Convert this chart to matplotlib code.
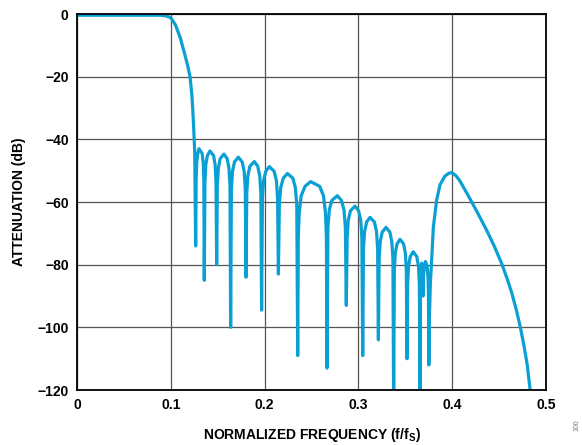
import matplotlib
matplotlib.use('Agg')
import matplotlib.pyplot as plt

plt.rcParams['font.family'] = ['Liberation Sans', 'DejaVu Sans']
plt.rcParams['font.weight'] = 'bold'
plt.rcParams['mathtext.fontset'] = 'custom'
plt.rcParams['mathtext.rm'] = 'Liberation Sans:bold'
plt.rcParams['mathtext.it'] = 'Liberation Sans:bold'
plt.rcParams['mathtext.bf'] = 'Liberation Sans:bold'

# response (normalized frequency, attenuation in dB)
freq = [
    0.000, 0.020, 0.040, 0.060, 0.080, 0.090, 0.095, 0.100, 0.105, 0.110,
    0.115, 0.118, 0.1205, 0.1225, 0.1235, 0.1245, 0.1255,
    0.1265, 0.1270, 0.1276, 0.1288, 0.1300, 0.1334, 0.1346, 0.1352,
    0.1357, 0.1364, 0.1373, 0.1390, 0.1418, 0.1456, 0.1473, 0.1482,
    0.1489, 0.1496, 0.1507, 0.1526, 0.1567, 0.1601, 0.1620, 0.1631,
    0.1638, 0.1646, 0.1658, 0.1679, 0.1720, 0.1761, 0.1782, 0.1794,
    0.1802, 0.1810, 0.1822, 0.1843, 0.1890, 0.1927, 0.1948, 0.1960,
    0.1968, 0.1977, 0.1989, 0.2013, 0.2050, 0.2102, 0.2126, 0.2138,
    0.2147, 0.2157, 0.2172, 0.2199, 0.2243, 0.2301, 0.2328, 0.2343,
    0.2353, 0.2359, 0.2369, 0.2390, 0.2431, 0.2491, 0.2587, 0.2628, 0.2649, 0.2659,
    0.2665, 0.2675, 0.2690, 0.2717, 0.2775, 0.2819, 0.2846, 0.2861,
    0.2871, 0.2880, 0.2892, 0.2915, 0.2964, 0.3002, 0.3025, 0.3037,
    0.3046, 0.3054, 0.3066, 0.3088, 0.3124, 0.3171, 0.3193, 0.3205,
    0.3213, 0.3221, 0.3233, 0.3254, 0.3294, 0.3335, 0.3356, 0.3368,
    0.3376, 0.3383, 0.3393, 0.3412, 0.3443, 0.3482, 0.3501, 0.3511,
    0.3518, 0.3525, 0.3535, 0.3553, 0.3585, 0.3622, 0.3640, 0.3650,
    0.3657, 0.3661, 0.3668, 0.3675, 0.3683, 0.3688,
    0.3690, 0.3694, 0.3702, 0.3715, 0.3733, 0.3742, 0.3747,
    0.3751, 0.3758, 0.3767, 0.3781, 0.3799, 0.3834, 0.3870, 0.3920,
    0.3960, 0.3994, 0.4040, 0.4083, 0.4130, 0.4190, 0.4280, 0.4367,
    0.4450, 0.4527, 0.4580, 0.4633, 0.4680, 0.4723, 0.4765, 0.4800,
    0.4822, 0.4835,
]
atten = [
    -0.4, -0.4, -0.4, -0.4, -0.4, -0.4, -0.6, -1.2, -3.5, -7.5,
    -13.0, -16.5, -20.0, -26.0, -31.0, -37.0, -44.0,
    -74.0, -53.0, -47.5, -44.5, -43.0, -44.5, -47.5, -53.0,
    -85.0, -53.7, -48.2, -45.2, -43.7, -45.2, -48.2, -53.7,
    -80.0, -54.7, -49.2, -46.2, -44.7, -46.2, -49.2, -54.7,
    -100.0, -55.7, -50.2, -47.2, -45.7, -47.2, -50.2, -55.7,
    -84.0, -57.1, -51.6, -48.6, -47.1, -48.6, -51.6, -57.1,
    -94.5, -58.7, -53.2, -50.2, -48.7, -50.2, -53.2, -58.7,
    -83.0, -60.9, -55.4, -52.4, -50.9, -52.4, -55.4, -60.9,
    -109.0, -71.5, -63.5, -58.0, -55.0, -53.5, -55.0, -58.0, -63.5, -71.5,
    -113.0, -68.0, -62.5, -59.5, -58.0, -59.5, -62.5, -68.0,
    -93.0, -71.3, -65.8, -62.8, -61.3, -62.8, -65.8, -71.3,
    -109.0, -74.9, -69.4, -66.4, -64.9, -66.4, -69.4, -74.9,
    -104.0, -78.1, -72.6, -69.6, -68.1, -69.6, -72.6, -78.1,
    -125.0, -81.9, -76.4, -73.4, -71.9, -73.4, -76.4, -81.9,
    -110.0, -85.9, -80.4, -77.4, -75.9, -77.4, -80.4, -85.9,
    -125.0, -86.0, -81.0, -79.5, -81.0, -85.0,
    -90.0, -84.0, -80.5, -79.0, -80.5, -84.0, -90.0,
    -112.0, -96.0, -86.0, -78.5, -68.0, -59.4, -54.5, -51.8,
    -50.9, -50.6, -51.6, -53.3, -55.8, -59.0, -64.0, -69.0,
    -74.2, -79.6, -84.0, -88.8, -94.0, -99.5, -105.8, -112.0,
    -117.5, -121.0,
]

x_ticks = [0, 0.1, 0.2, 0.3, 0.4, 0.5]
x_labels = ['0', '0.1', '0.2', '0.3', '0.4', '0.5']
y_ticks = [0, -20, -40, -60, -80, -100, -120]

fig = plt.figure(figsize=(5.82, 4.45), dpi=100)
ax = fig.add_axes([77 / 582, 1 - 390 / 445, (546 - 77) / 582, (390 - 14) / 445])

ax.plot(freq, atten, color='#0aa0d4', lw=2.3, solid_joinstyle='round', zorder=3)

ax.set_xlim(0, 0.5)
ax.set_ylim(-120, 0)
ax.set_xticks(x_ticks)
ax.set_xticklabels(x_labels)
ax.set_yticks(y_ticks)
ax.tick_params(length=0, labelsize=10, pad=6)
ax.grid(True, color='#555555', lw=0.9)
ax.set_axisbelow(True)
for s in ax.spines.values():
    s.set_linewidth(1.3)
    s.set_zorder(4)

ax.set_xlabel('NORMALIZED FREQUENCY (f/f$_\\mathrm{S}$)', fontsize=10,
              fontweight='bold', labelpad=10)
ax.set_ylabel('ATTENUATION (dB)', fontsize=10, fontweight='bold', labelpad=8)

fig.text(0.991, 0.045, '100', rotation=90, fontsize=5, color='#777777',
         fontweight='normal', ha='center', va='center')

fig.savefig('out.png', dpi=100)
